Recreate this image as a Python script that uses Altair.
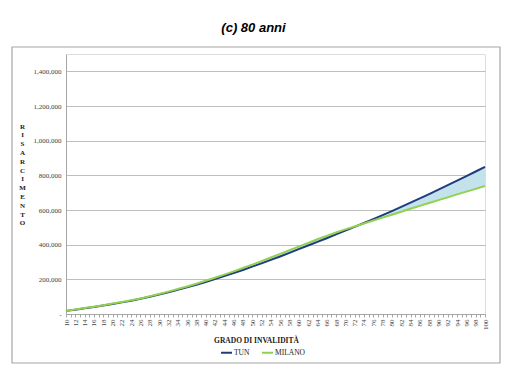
import altair as alt
import pandas as pd

grado = list(range(10, 101, 2))
tun = [18, 25, 33, 41, 49, 58, 67, 77, 88, 100,
       113, 126, 140, 154, 169, 185, 202, 219, 236, 254,
       273, 292, 312, 332, 353, 374, 395, 416, 437, 459,
       481, 503, 525, 547, 570, 594, 618, 643, 667, 692,
       718, 744, 770, 796, 822, 849]
milano = [18, 26, 34, 42, 51, 60, 69, 79, 90, 102,
          115, 129, 144, 159, 175, 192, 209, 227, 246, 265,
          285, 305, 326, 347, 368, 389, 410, 431, 451, 470,
          488, 505, 522, 539, 556, 573, 590, 607, 624, 640,
          657, 673, 690, 706, 722, 738]
series = ["TUN", "MILANO"]
colors = ["#1F3C7C", "#92D050"]
y_ticks = [0, 200000, 400000, 600000, 800000, 1000000, 1200000, 1400000]

wide = pd.DataFrame({"grado": grado,
                     "TUN": [v * 1000 for v in tun],
                     "MILANO": [v * 1000 for v in milano]})
long = wide.melt(id_vars="grado", value_vars=series, var_name="serie", value_name="valore")

serif = "Liberation Serif"
W, H = 419, 260

xscale = alt.Scale(domain=[10, 100], nice=False, zero=False)
yscale = alt.Scale(domain=[0, 1500000], nice=False)

xaxis = alt.Axis(values=list(range(10, 101)),
                 labelExpr="datum.value % 2 == 0 ? datum.label : ''",
                 labelAngle=-90, labelFont=serif, labelFontSize=7, labelColor="#404040",
                 labelPadding=2, labelOverlap=False, labelFlush=False,
                 tickSize=3, tickColor="#a6a6a6", domainColor="#a6a6a6", grid=False,
                 title="GRADO DI INVALIDITÀ", titleFont=serif, titleFontSize=7.5,
                 titleFontWeight="bold", titleColor="#222222",
                 titleX=190, titleY=26, titleAnchor="middle", titleAlign="center",
                 titleBaseline="middle")

yaxis = alt.Axis(values=y_ticks,
                 labelExpr="datum.value == 0 ? '-' : format(datum.value, ',')",
                 labelFont=serif, labelFontSize=7, labelColor="#404040", labelPadding=5,
                 labelOverlap=False,
                 ticks=False, domainColor="#a6a6a6", gridColor="#bfbfbf", gridWidth=1,
                 title=list("RISARCIMENTO"), titleFont=serif, titleFontSize=7,
                 titleFontWeight="bold", titleColor="#222222", titleAngle=0,
                 titleX=-44, titleY=68, titleBaseline="top", titleAlign="center",
                 titleLineHeight=8.8)

frame = alt.Chart(pd.DataFrame({"k": [0]})).mark_rect(
    fill=None, stroke="#a6a6a6", strokeWidth=1.2
).encode(x=alt.value(-54), x2=alt.value(434), y=alt.value(-7), y2=alt.value(309))

band = alt.Chart(wide).mark_area(color="#C3E2EC", opacity=1).encode(
    x=alt.X("grado:Q", scale=xscale, axis=xaxis),
    y=alt.Y("TUN:Q", scale=yscale, axis=yaxis),
    y2="MILANO:Q",
)

lines = alt.Chart(long).mark_line(strokeWidth=2).encode(
    x=alt.X("grado:Q", scale=xscale, axis=xaxis),
    y=alt.Y("valore:Q", scale=yscale, axis=yaxis),
    color=alt.Color("serie:N", scale=alt.Scale(domain=series, range=colors),
                    sort=series,
                    legend=alt.Legend(orient="none", direction="horizontal", title=None,
                                      legendX=154, legendY=292, symbolType="stroke",
                                      symbolStrokeWidth=2, symbolSize=120,
                                      labelFont=serif, labelFontSize=7.5,
                                      labelColor="#222222", columnPadding=8,
                                      symbolOffset=0, labelOffset=1)),
)

chart = alt.layer(frame, band, lines).properties(
    width=W, height=H,
    title=alt.TitleParams("(c) 80 anni", font="Liberation Sans", fontSize=13,
                          fontWeight="bold", fontStyle="italic", color="#000000",
                          anchor="middle", dx=-22, offset=11),
    autosize=alt.AutoSizeParams(type="none"),
    padding={"left": 58, "top": 46, "right": 18, "bottom": 60},
).configure_view(stroke=None).configure_axis(labelOverlap=False).configure(background="white")

chart.save("out.html", embed_options={"renderer": "svg", "actions": False})
